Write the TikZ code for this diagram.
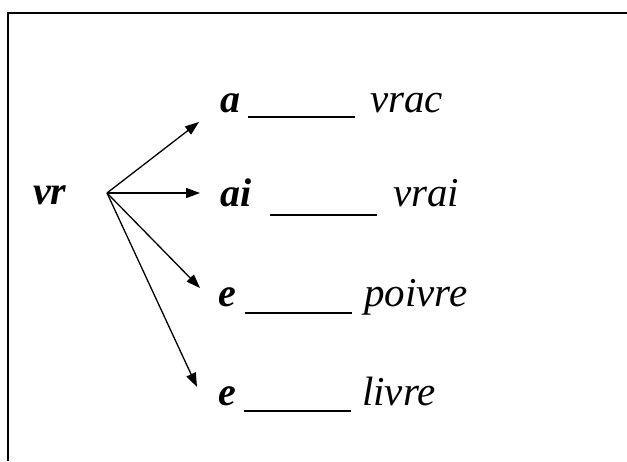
\documentclass[tikz,border=0pt]{standalone}
\usepackage{fontspec}
\setmainfont{Liberation Serif}
\usetikzlibrary{arrows.meta}

\begin{document}
\begin{tikzpicture}[x=1pt,y=1pt,
  vowel/.style={anchor=base west, inner sep=0pt, font=\fontsize{40}{42}\selectfont\bfseries\itshape},
  word/.style={anchor=base west, inner sep=0pt, font=\fontsize{41}{43}\selectfont\itshape},
  arr/.style={line width=1.3pt, -{Triangle[length=14pt,width=10pt]}},
  blank/.style={line width=2pt}]
\useasboundingbox (0,0) rectangle (627,461);
\fill[white] (0,0) rectangle (627,461);
% frame
\draw[line width=1.5pt] (8,0) -- (8,448) -- (627,448);
% stem
\node[vowel] (vr) at (33,256) {vr};
\coordinate (hub) at (107,268);
% rows
\node[vowel] (a) at (220,348) {a};
\draw[blank] (248,344) -- (355,344);
\node[word] (vrac) at (370,348) {vrac};
\node[vowel] (ai) at (220,254) {ai};
\draw[blank] (270,246) -- (377,246);
\node[word] (vrai) at (393,254) {vrai};
\node[vowel] (e1) at (218,154) {e};
\draw[blank] (245,148) -- (352,148);
\node[word] (poivre) at (364,154) {poivre};
\node[vowel] (e2) at (218,56) {e};
\draw[blank] (244,50) -- (351,50);
\node[word] (livre) at (362,56) {livre};
% arrows
\coordinate (ta) at (199,339);
\coordinate (tai) at (200,268);
\coordinate (te1) at (200,173);
\coordinate (te2) at (197,74);
\draw[arr] (hub) -- (ta);
\draw[arr] (hub) -- (tai);
\draw[arr] (hub) -- (te1);
\draw[arr] (hub) -- (te2);
\end{tikzpicture}
\end{document}
